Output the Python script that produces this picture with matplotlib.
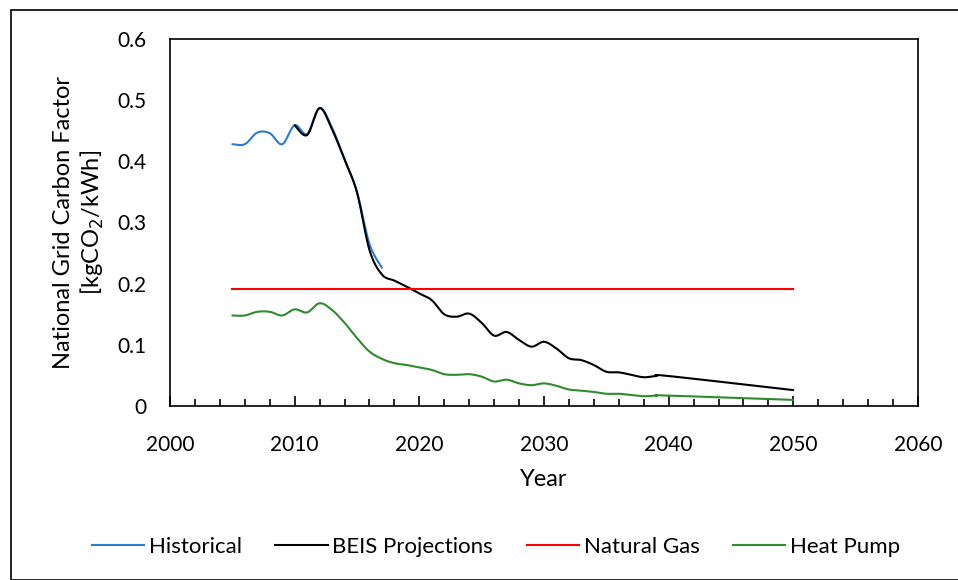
import numpy as np
import matplotlib.pyplot as plt
from matplotlib.patches import Rectangle
from matplotlib.lines import Line2D

# values
hist_years = [2005, 2006, 2007, 2008, 2009, 2010, 2011, 2012, 2013, 2014, 2015, 2016, 2017]
hist_vals = [0.428, 0.428, 0.447, 0.446, 0.428, 0.459, 0.445, 0.487, 0.455, 0.403, 0.350, 0.265, 0.226]

beis_years = [2010, 2011, 2012, 2013, 2014, 2015, 2016, 2017, 2018, 2019, 2020,
              2021, 2022, 2023, 2024, 2025, 2026, 2027, 2028, 2029, 2030,
              2031, 2032, 2033, 2034, 2035, 2036, 2037, 2038, 2039, 2040, 2050]
beis_vals = [0.459, 0.443, 0.487, 0.452, 0.403, 0.349, 0.255, 0.215, 0.205, 0.195, 0.184,
             0.173, 0.150, 0.146, 0.151, 0.136, 0.115, 0.121, 0.108, 0.097, 0.105,
             0.094, 0.078, 0.075, 0.067, 0.056, 0.055, 0.051, 0.047, 0.049, 0.049, 0.026]

gas_years = [2005, 2050]
gas_vals = [0.191, 0.191]

hp_years = [2005, 2006, 2007, 2008, 2009, 2010, 2011, 2012, 2013, 2014, 2015, 2016, 2017,
            2018, 2019, 2020, 2021, 2022, 2023, 2024, 2025, 2026, 2027, 2028, 2029, 2030,
            2031, 2032, 2033, 2034, 2035, 2036, 2037, 2038, 2039, 2040, 2050]
hp_vals = [0.148, 0.148, 0.154, 0.154, 0.148, 0.158, 0.153, 0.168, 0.157, 0.136, 0.111, 0.089, 0.077,
           0.070, 0.067, 0.063, 0.059, 0.052, 0.051, 0.052, 0.048, 0.040, 0.043, 0.037, 0.034, 0.037,
           0.033, 0.027, 0.025, 0.023, 0.020, 0.020, 0.018, 0.016, 0.017, 0.017, 0.010]


def smooth_line(ax, xs, ys, color, lw=1.5):
    # Excel-style smoothed line: cubic bezier through each pair of points
    x = np.asarray(xs, float)
    y = np.asarray(ys, float)
    n = len(x)
    t = np.linspace(0, 1, 20)[:, None]
    pts = []
    for i in range(n - 1):
        p0 = np.array([x[max(i - 1, 0)], y[max(i - 1, 0)]])
        p1 = np.array([x[i], y[i]])
        p2 = np.array([x[i + 1], y[i + 1]])
        p3 = np.array([x[min(i + 2, n - 1)], y[min(i + 2, n - 1)]])
        c1 = p1 + (p2 - p0) / 6.0
        c2 = p2 - (p3 - p1) / 6.0
        seg = ((1 - t) ** 3) * p1 + 3 * ((1 - t) ** 2) * t * c1 + 3 * (1 - t) * t ** 2 * c2 + t ** 3 * p2
        pts.append(seg if i == 0 else seg[1:])
    pts = np.vstack(pts)
    ax.plot(pts[:, 0], pts[:, 1], color=color, lw=lw, solid_capstyle='round',
            solid_joinstyle='round')


plt.rcParams['font.family'] = ['Lato', 'DejaVu Sans']

fig = plt.figure(figsize=(9.58, 5.8), dpi=100)
ax = fig.add_axes([170 / 958, 1 - 406 / 580, (918 - 170) / 958, (406 - 39) / 580])

c_hist = '#2B7BD3'
c_beis = '#000000'
c_gas = '#FF0000'
c_hp = '#2E8B2E'

smooth_line(ax, hist_years, hist_vals, c_hist)
smooth_line(ax, beis_years, beis_vals, c_beis)
ax.plot(gas_years, gas_vals, color=c_gas, lw=1.5)
smooth_line(ax, hp_years, hp_vals, c_hp)

ax.set_xlim(2000, 2060)
ax.set_ylim(0, 0.6)
ax.set_xticks(range(2000, 2061, 10))
ax.set_xticks(range(2000, 2061, 2), minor=True)
ax.set_yticks([0, 0.1, 0.2, 0.3, 0.4, 0.5, 0.6])
ax.set_yticklabels(['0', '0.1', '0.2', '0.3', '0.4', '0.5', '0.6'])
ax.tick_params(axis='x', which='major', direction='in', length=7, width=1.2, pad=21, labelsize=15)
ax.tick_params(axis='x', which='minor', direction='in', length=5, width=1.2)
ax.tick_params(axis='y', length=0, pad=17, labelsize=15)
for s in ax.spines.values():
    s.set_linewidth(1.2)
    s.set_color('#000000')

ax.set_xlabel('Year', fontsize=17, labelpad=10)
ax.set_ylabel('National Grid Carbon Factor\n[kgCO$_2$/kWh]', fontsize=17, labelpad=8,
              linespacing=1.22)

handles = [Line2D([], [], color=c, lw=1.5) for c in (c_hist, c_beis, c_gas, c_hp)]
fig.legend(handles, ['Historical', 'BEIS Projections', 'Natural Gas', 'Heat Pump'],
           loc='center', bbox_to_anchor=(496 / 958, 1 - 547 / 580), ncol=4, frameon=False,
           fontsize=16, handlelength=2.35, handletextpad=0.22, columnspacing=1.5)

# outer chart border
fig.patches.append(Rectangle((11 / 958, 0), 1.0, 1 - 10 / 580, transform=fig.transFigure,
                             fill=False, edgecolor='#000000', lw=1.2))

plt.savefig('out.png', dpi=100)
